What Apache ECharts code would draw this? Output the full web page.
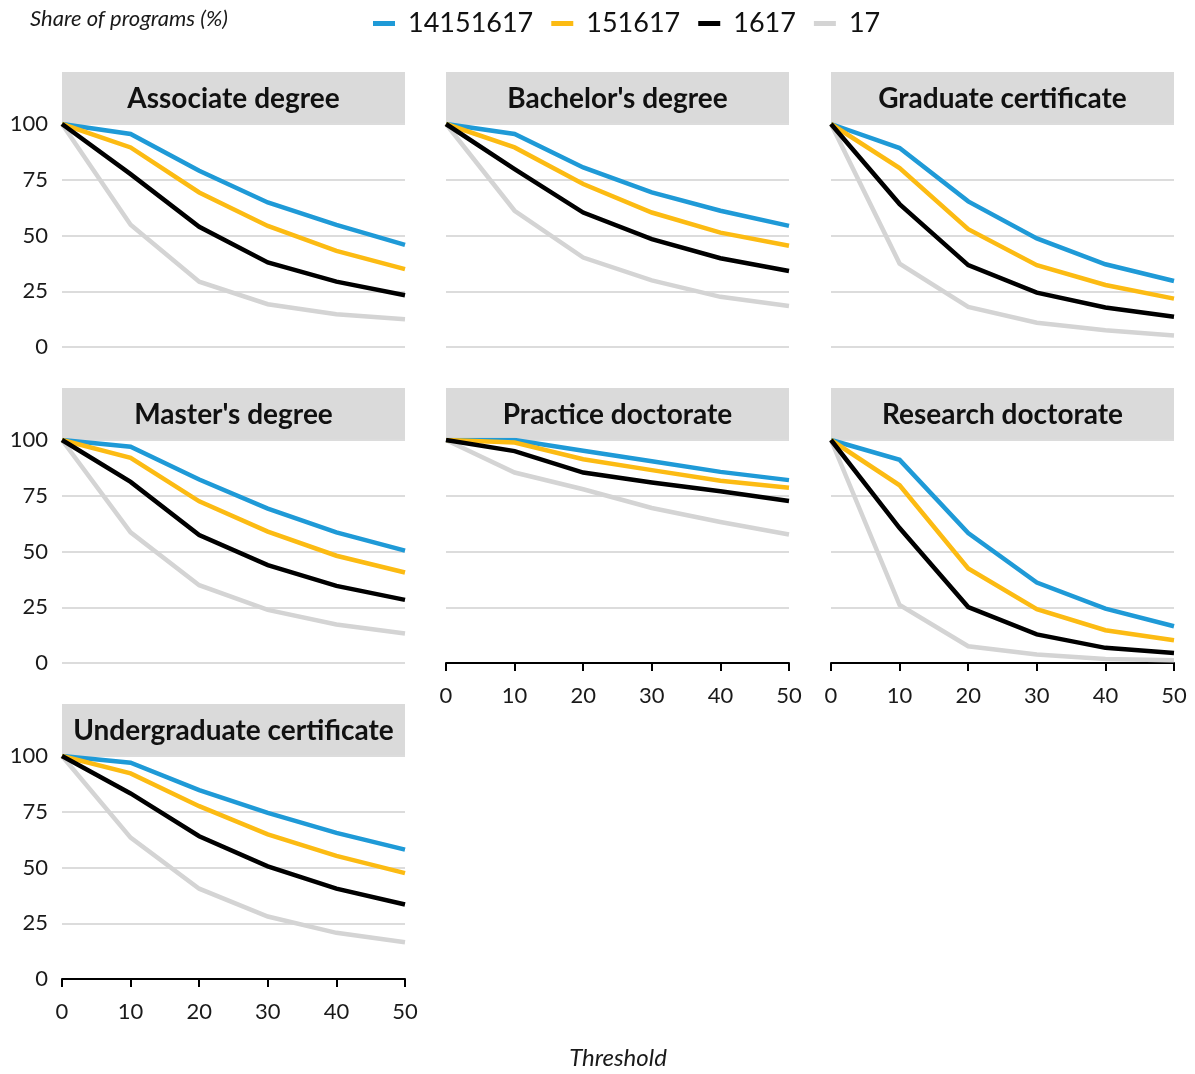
<!DOCTYPE html>
<html>
<head>
<meta charset="utf-8">
<script src="https://cdn.jsdelivr.net/npm/echarts@6/dist/echarts.min.js"></script>
<style>
html,body{margin:0;padding:0;background:#fff;}
#chart{width:1195px;height:1074px;}
</style>
</head>
<body>
<div id="chart"></div>
<script>
// ---- data ----
const thresholds = [0, 10, 20, 30, 40, 50];
const seriesNames = ['14151617', '151617', '1617', '17'];
const panelNames = ['Associate degree', "Bachelor's degree", 'Graduate certificate',
  "Master's degree", 'Practice doctorate', 'Research doctorate', 'Undergraduate certificate'];
const yTicks = [0, 25, 50, 75, 100];
const xTicks = [0, 10, 20, 30, 40, 50];

const associate_14151617 = [100, 95.5, 79.0, 64.8, 54.8, 45.8];
const associate_151617   = [100, 89.5, 69.3, 54.3, 43.1, 34.9];
const associate_1617     = [100, 77.5, 53.9, 37.9, 29.3, 23.2];
const associate_17       = [100, 54.8, 29.3, 19.2, 14.7, 12.4];

const bachelor_14151617 = [100, 95.5, 80.5, 69.3, 61.1, 54.3];
const bachelor_151617   = [100, 89.5, 73.1, 60.3, 51.3, 45.4];
const bachelor_1617     = [100, 79.8, 60.3, 48.4, 39.8, 34.1];
const bachelor_17       = [100, 61.1, 40.1, 29.9, 22.5, 18.4];

const gradcert_14151617 = [100, 89.2, 65.3, 48.7, 37.1, 29.6];
const gradcert_151617   = [100, 80.2, 52.8, 36.7, 27.8, 21.7];
const gradcert_1617     = [100, 64.1, 36.7, 24.4, 17.7, 13.6];
const gradcert_17       = [100, 37.4, 18.0, 10.9, 7.5, 5.2];

const master_14151617 = [100, 97.0, 82.3, 69.2, 58.6, 50.4];
const master_151617   = [100, 92.0, 72.5, 58.9, 48.1, 40.6];
const master_1617     = [100, 81.2, 57.4, 43.9, 34.6, 28.3];
const master_17       = [100, 58.6, 34.9, 23.8, 17.3, 13.2];

const practice_14151617 = [100, 100, 95.2, 90.5, 85.7, 82.0];
const practice_151617   = [100, 98.9, 91.4, 86.5, 81.7, 78.6];
const practice_1617     = [100, 95.0, 85.4, 80.9, 77.0, 72.6];
const practice_17       = [100, 85.4, 77.9, 69.5, 63.2, 57.6];

const research_14151617 = [100, 91.1, 58.3, 36.1, 24.4, 16.5];
const research_151617   = [100, 79.7, 42.4, 24.1, 14.7, 10.2];
const research_1617     = [100, 60.5, 25.1, 12.8, 6.8, 4.5];
const research_17       = [100, 26.0, 7.5, 3.8, 1.8, 1.2];

const ugcert_14151617 = [100, 97.0, 84.7, 74.5, 65.5, 58.0];
const ugcert_151617   = [100, 92.2, 77.5, 64.9, 55.2, 47.5];
const ugcert_1617     = [100, 83.2, 64.0, 50.5, 40.5, 33.4];
const ugcert_17       = [100, 63.4, 40.5, 28.0, 20.7, 16.5];

const panelData = [
  [associate_14151617, associate_151617, associate_1617, associate_17],
  [bachelor_14151617, bachelor_151617, bachelor_1617, bachelor_17],
  [gradcert_14151617, gradcert_151617, gradcert_1617, gradcert_17],
  [master_14151617, master_151617, master_1617, master_17],
  [practice_14151617, practice_151617, practice_1617, practice_17],
  [research_14151617, research_151617, research_1617, research_17],
  [ugcert_14151617, ugcert_151617, ugcert_1617, ugcert_17]
];

// ---- styling / layout ----
const colors = ['#1f9ad7', '#fcbb13', '#000000', '#d4d4d4'];
const zOrder = [2, 3, 4, 1];
const FONT = 'Lato, "Noto Sans", sans-serif';
const colLeft = [62, 446, 831];
const rowTop = [124, 440, 756];
const PW = 343, PH = 223, STRIP = 52;
const hasXAxis = [false, false, false, false, true, true, true];

const grids = [], xAxes = [], yAxes = [], series = [], graphics = [];
panelNames.forEach((name, i) => {
  const col = i % 3, row = Math.floor(i / 3);
  const left = colLeft[col], top = rowTop[row];
  grids.push({left: left, top: top, width: PW, height: PH});
  xAxes.push({
    type: 'value', gridIndex: i, min: 0, max: 50, interval: 10,
    axisLine: {show: hasXAxis[i], onZero: false, lineStyle: {color: '#000', width: 2}},
    axisTick: {show: hasXAxis[i], length: 8, lineStyle: {color: '#000', width: 2}},
    axisLabel: {show: hasXAxis[i], fontSize: 22, fontFamily: FONT, color: '#1a1a1a', margin: 22},
    splitLine: {show: false}
  });
  yAxes.push({
    type: 'value', gridIndex: i, min: 0, max: 100, interval: 25,
    axisLine: {show: false}, axisTick: {show: false},
    axisLabel: {show: col === 0, fontSize: 22, fontFamily: FONT, color: '#1a1a1a', margin: 14},
    splitLine: {show: true, lineStyle: {color: '#dcdcdc', width: 2}}
  });
  graphics.push({
    type: 'rect', left: left, top: top - STRIP, z: 0,
    shape: {width: PW, height: STRIP}, style: {fill: '#dadada'}, silent: true
  });
  graphics.push({
    type: 'text', x: left + PW / 2, y: top - STRIP / 2 + 1, z: 1,
    style: {text: name, font: 'bold 28px ' + FONT, fill: '#111', textAlign: 'center', textVerticalAlign: 'middle'}
  });
  panelData[i].forEach((vals, s) => {
    series.push({
      name: seriesNames[s], type: 'line', xAxisIndex: i, yAxisIndex: i,
      data: thresholds.map((t, k) => [t, vals[k]]),
      showSymbol: false, symbol: 'none', z: zOrder[s],
      lineStyle: {width: 4.5, color: colors[s], cap: 'butt', join: 'miter'},
      itemStyle: {color: colors[s]}
    });
  });
});

graphics.push({
  type: 'text', x: 30, y: 19, z: 5,
  style: {text: 'Share of programs (%)', font: 'italic 22px ' + FONT, fill: '#1a1a1a', textAlign: 'left', textVerticalAlign: 'middle'}
});
graphics.push({
  type: 'text', x: 618, y: 1058, z: 5,
  style: {text: 'Threshold', font: 'italic 24px ' + FONT, fill: '#1a1a1a', textAlign: 'center', textVerticalAlign: 'middle'}
});

const chart = echarts.init(document.getElementById('chart'), null, {renderer: 'canvas'});
chart.setOption({
  animation: false,
  backgroundColor: '#ffffff',
  color: colors,
  legend: {
    data: seriesNames, left: 368, top: 5, icon: 'rect', itemWidth: 22, itemHeight: 5, itemGap: 18,
    textStyle: {fontSize: 27, fontFamily: FONT, color: '#111', padding: [0, 0, 0, 8]}
  },
  grid: grids, xAxis: xAxes, yAxis: yAxes, series: series,
  graphic: graphics
});
</script>
</body>
</html>
